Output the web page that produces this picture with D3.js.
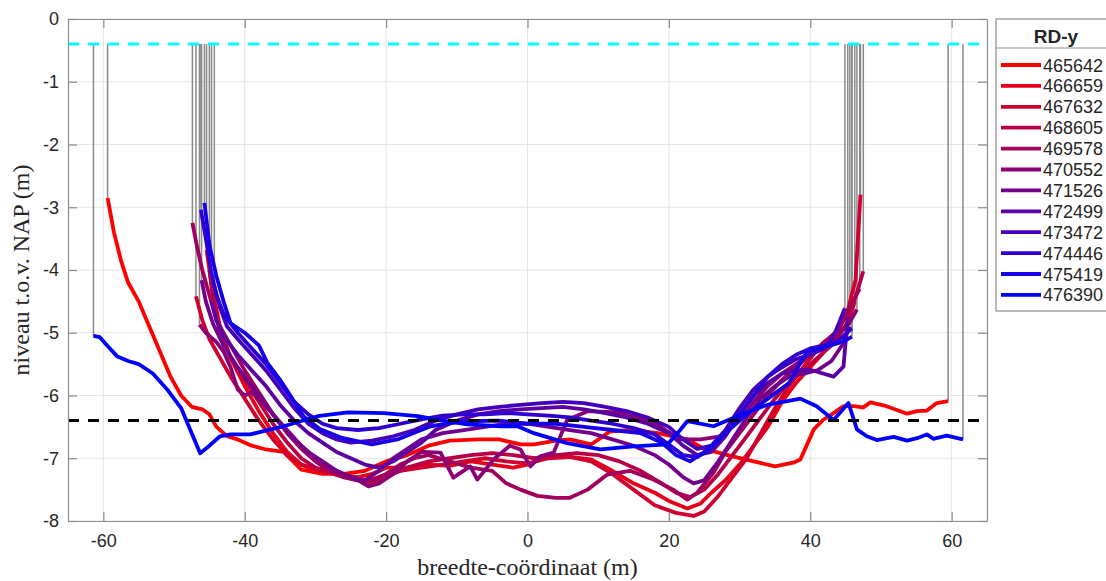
<!DOCTYPE html>
<html>
<head>
<meta charset="utf-8">
<script src="https://cdn.jsdelivr.net/npm/d3@7"></script>
<style>
body { margin: 0; background: #fff; }
.tick text { font-family: "Liberation Sans", Arial, sans-serif; font-size: 18px; fill: #262626; }
.axisTitle { font-family: "Liberation Serif", "Times New Roman", serif; font-size: 24px; fill: #262626; }
.legendText { font-family: "Liberation Sans", Arial, sans-serif; font-size: 18px; fill: #262626; }
</style>
</head>
<body>
<div id="drawing"></div>
<script>
"use strict"

/**** DATA ****/

// legend labels (RD-y coordinate of each cross section)
let rdY = [465642, 466659, 467632, 468605, 469578, 470552, 471526, 472499, 473472, 474446, 475419, 476390]

let xTicks = [-60, -40, -20, 0, 20, 40, 60]
let yTicks = [0, -1, -2, -3, -4, -5, -6, -7, -8]

let waterLevel = -0.4
let designDepth = -6.4

// profiles: [breedte-coordinaat, niveau]
let prof465642 = [[-59.4,-2.85],[-58.5,-3.4],[-57.5,-3.85],[-56.5,-4.2],[-55,-4.5],[-53.5,-4.9],[-52,-5.3],[-50.5,-5.7],[-49,-6.0],[-47.5,-6.18],[-46,-6.22],[-45,-6.3],[-44,-6.5],[-42.5,-6.65],[-41,-6.7],[-39,-6.8],[-37,-6.86],[-34.5,-6.9],[-32,-7.18],[-29,-7.25],[-26,-7.25],[-23,-7.2],[-20,-7.05],[-17,-6.95],[-14,-6.8],[-11,-6.72],[-7,-6.7],[-4,-6.7],[-1,-6.78],[1,-6.78],[4,-6.72],[6,-6.7],[9,-6.78],[10.3,-6.68],[11.7,-6.57],[15,-6.55],[18.4,-6.6],[22.6,-6.7],[25,-6.85],[27,-6.91],[29,-6.97],[32,-7.05],[35,-7.13],[37.6,-7.07],[38.6,-7.02],[40.5,-6.54],[41.8,-6.39],[43.3,-6.28],[44.7,-6.17],[46.1,-6.17],[47.5,-6.19],[48.5,-6.11],[50.8,-6.17],[53.7,-6.29],[55.1,-6.25],[56.5,-6.24],[57.9,-6.12],[59.5,-6.09]]
let prof466659 = [[-45.4,-3.68],[-44.6,-4.3],[-43.5,-4.9],[-42,-5.4],[-40,-5.85],[-38,-6.25],[-36,-6.6],[-34,-6.9],[-32,-7.1],[-30,-7.2],[-27,-7.25],[-24,-7.3],[-22,-7.25],[-20,-7.15],[-17,-7.15],[-14,-7.1],[-11,-7.12],[-8,-7.05],[-5,-7.1],[-2,-7.15],[0,-7.1],[3,-6.98],[6,-6.98],[9,-7.02],[12,-7.2],[15,-7.4],[18,-7.55],[20,-7.68],[22.6,-7.8],[24.5,-7.72],[26,-7.55],[28,-7.35],[30,-7.1],[32,-6.8],[34,-6.5],[36,-6.1],[38,-5.8],[40,-5.55],[42,-5.3],[44,-5.05],[45.5,-4.8],[46.3,-4.5]]
let prof467632 = [[-46.9,-4.42],[-46,-4.8],[-45,-5.1],[-43.5,-5.4],[-42,-5.7],[-40,-6.05],[-38,-6.4],[-36,-6.7],[-34,-6.95],[-32,-7.1],[-29,-7.2],[-26,-7.3],[-23,-7.38],[-21,-7.3],[-18,-7.2],[-15,-7.15],[-12,-7.1],[-9,-7.05],[-6,-7.0],[-3,-7.05],[0,-7.08],[3,-7.0],[6,-6.98],[9,-7.05],[12,-7.25],[15,-7.5],[18,-7.75],[21,-7.87],[23.5,-7.92],[25,-7.85],[27,-7.6],[29,-7.3],[31,-7.0],[33,-6.6],[35,-6.2],[37,-5.85],[39,-5.55],[41.8,-5.16],[43.8,-5.0],[45.2,-4.69],[46.4,-4.16],[47.1,-2.8]]
let prof468605 = [[-45.0,-4.0],[-44.3,-4.6],[-43.5,-5.0],[-42,-5.4],[-40,-5.75],[-38,-6.1],[-36,-6.45],[-34,-6.75],[-32,-7.0],[-30,-7.15],[-27,-7.25],[-24,-7.35],[-22,-7.4],[-20,-7.3],[-17,-7.15],[-14,-7.05],[-11,-7.0],[-8,-6.95],[-5,-6.92],[-2,-6.95],[1,-7.0],[4,-6.95],[7,-6.92],[10,-6.95],[13,-7.05],[16,-7.2],[19,-7.4],[21,-7.55],[23,-7.62],[25,-7.5],[27,-7.25],[29,-6.95],[31,-6.65],[33,-6.35],[35,-6.05],[37,-5.8],[39,-5.6],[41,-5.4],[43,-5.2],[45,-4.9],[46.5,-4.4],[47.5,-4.02]]
let prof469578 = [[-47.4,-3.25],[-46.8,-3.6],[-46,-4.0],[-45,-4.4],[-44,-4.8],[-42,-5.2],[-40,-5.6],[-38,-5.95],[-36,-6.3],[-34,-6.6],[-32,-6.85],[-30,-7.05],[-28,-7.2],[-26,-7.3],[-24,-7.35],[-22,-7.35],[-20,-7.25],[-18,-7.1],[-16,-7.0],[-14,-6.95],[-11,-7.05],[-8,-7.15],[-5,-7.2],[-3,-7.4],[-1,-7.5],[1.4,-7.6],[4,-7.63],[6,-7.63],[8.5,-7.5],[11.3,-7.26],[14.5,-7.2],[17.8,-7.34],[20.6,-7.5],[22.6,-7.66],[24,-7.55],[26.3,-7.23],[28,-6.9],[30,-6.6],[32,-6.3],[34,-6.0],[36,-5.75],[38,-5.55],[40,-5.35],[42,-5.15],[44,-4.95],[45.5,-4.6],[47.0,-4.3]]
let prof470552 = [[-46.4,-4.87],[-45.5,-5.0],[-44,-5.15],[-43,-5.3],[-42,-5.55],[-41,-5.9],[-40,-6.0],[-39,-5.95],[-38,-6.05],[-36,-6.3],[-34,-6.55],[-32,-6.8],[-30,-7.0],[-28,-7.15],[-26,-7.25],[-24,-7.35],[-22.5,-7.45],[-21,-7.4],[-19,-7.25],[-17,-7.05],[-15,-6.9],[-12.3,-6.91],[-10.5,-7.31],[-8.1,-7.13],[-7.1,-7.34],[-4.8,-7.02],[-2.5,-6.8],[-1,-6.86],[0.4,-7.13],[1.8,-6.97],[3.7,-6.91],[5.6,-6.39],[8.5,-6.25],[13.1,-6.27],[17.8,-6.43],[21.6,-6.7],[24.5,-6.7],[27.3,-6.65],[30,-6.4],[32,-6.1],[34,-5.85],[36,-5.65],[38,-5.5],[40,-5.35],[42,-5.2],[44,-5.0],[45.5,-4.85],[46.6,-4.63]]
let prof471526 = [[-46.1,-4.16],[-45.5,-4.5],[-44.5,-4.85],[-43,-5.2],[-41,-5.55],[-39,-5.85],[-37,-6.15],[-35,-6.45],[-33,-6.7],[-31,-6.9],[-29,-7.05],[-27,-7.2],[-25,-7.3],[-23,-7.35],[-21,-7.2],[-19,-7.0],[-17,-6.85],[-15,-6.7],[-12,-6.6],[-9,-6.55],[-6,-6.5],[-3,-6.45],[0,-6.45],[3,-6.5],[6,-6.55],[9,-6.6],[12,-6.7],[15,-6.8],[18,-6.95],[20,-7.1],[22,-7.3],[23.5,-7.4],[25,-7.35],[27,-7.05],[29,-6.7],[31,-6.35],[33,-6.05],[35,-5.85],[37,-5.7],[39,-5.65],[41,-5.6],[43,-5.45],[44.5,-5.2],[45.6,-4.9]]
let prof472499 = [[-44.7,-4.5],[-44,-4.8],[-43,-5.05],[-41,-5.35],[-39,-5.6],[-37,-5.85],[-35,-6.15],[-33,-6.4],[-31,-6.6],[-29,-6.75],[-27,-6.9],[-25,-7.0],[-23,-7.1],[-21,-7.15],[-19,-7.05],[-17,-6.9],[-15,-6.75],[-13,-6.55],[-10,-6.4],[-7,-6.3],[-4,-6.25],[-1,-6.22],[2,-6.2],[5,-6.18],[8,-6.22],[11,-6.28],[14,-6.35],[17,-6.45],[20,-6.6],[22,-6.8],[24,-6.95],[26,-6.9],[28,-6.65],[30,-6.3],[32,-6.0],[34,-5.8],[36,-5.65],[38,-5.6],[40,-5.59],[43.3,-5.7],[44.7,-5.54],[45.3,-4.75]]
let prof473472 = [[-44.3,-4.26],[-43.5,-4.6],[-42.5,-4.9],[-41,-5.1],[-39,-5.35],[-37,-5.6],[-35,-5.9],[-33,-6.2],[-31,-6.45],[-29,-6.6],[-27,-6.7],[-25,-6.75],[-22,-6.72],[-19,-6.65],[-16,-6.55],[-13,-6.4],[-10,-6.3],[-7,-6.22],[-4,-6.18],[-1,-6.15],[2,-6.12],[5,-6.1],[8,-6.12],[11,-6.18],[14,-6.25],[17,-6.35],[20,-6.5],[22,-6.7],[24,-6.85],[26,-6.8],[28,-6.55],[30,-6.2],[32,-5.9],[34,-5.7],[36,-5.55],[38,-5.42],[40,-5.35],[42,-5.25],[43.5,-5.0],[44.9,-4.61]]
let prof474446 = [[-46.2,-3.04],[-45.5,-3.5],[-44.8,-4.0],[-44,-4.4],[-43,-4.7],[-41,-5.0],[-39,-5.25],[-37,-5.5],[-35,-5.8],[-33,-6.1],[-31,-6.3],[-29,-6.45],[-27,-6.52],[-24,-6.55],[-21,-6.52],[-18,-6.45],[-15,-6.38],[-12,-6.32],[-9,-6.3],[-6,-6.3],[-3,-6.28],[0,-6.3],[3,-6.32],[6,-6.35],[9,-6.4],[12,-6.45],[15,-6.52],[18,-6.62],[20,-6.78],[22,-6.95],[24,-6.98],[26,-6.85],[28,-6.6],[30,-6.3],[32,-6.0],[34,-5.7],[36,-5.5],[38,-5.35],[40,-5.25],[42,-5.2],[44,-5.12],[45.9,-4.93]]
let prof475419 = [[-45.7,-2.93],[-45,-3.6],[-44,-4.1],[-43,-4.5],[-42,-4.85],[-40,-5.0],[-38,-5.2],[-36.8,-5.48],[-35,-5.75],[-33.5,-6.01],[-31.7,-6.33],[-29.3,-6.54],[-26.4,-6.67],[-22,-6.78],[-18.4,-6.7],[-13.7,-6.49],[-9,-6.41],[-4,-6.4],[0,-6.45],[4,-6.45],[8,-6.5],[12,-6.55],[16,-6.6],[19,-6.75],[21,-6.95],[23,-7.05],[25,-6.9],[28,-6.6],[31,-6.3],[34,-6.05],[37,-5.8],[39.5,-5.3],[42.4,-5.22],[44.7,-5.14],[45.9,-5.06]]
let prof476390 = [[-61.4,-5.05],[-60.5,-5.07],[-59.5,-5.2],[-58,-5.38],[-56.5,-5.45],[-55,-5.5],[-53,-5.65],[-51,-5.9],[-49,-6.2],[-47.5,-6.6],[-46.3,-6.92],[-45,-6.8],[-43.5,-6.65],[-42,-6.62],[-39.2,-6.62],[-34.5,-6.49],[-29.7,-6.33],[-25.4,-6.27],[-20.3,-6.28],[-15.5,-6.33],[-12.7,-6.39],[-8.5,-6.46],[-3.8,-6.49],[-1.4,-6.49],[0.9,-6.6],[5.6,-6.76],[10.3,-6.86],[15,-6.81],[19.8,-6.78],[21.6,-6.55],[22.6,-6.41],[26.3,-6.49],[30.1,-6.31],[33.9,-6.15],[38.6,-6.05],[40.9,-6.17],[43.3,-6.39],[45.4,-6.12],[46.6,-6.54],[48,-6.65],[49.4,-6.71],[51.8,-6.66],[53.7,-6.72],[55.1,-6.68],[56.5,-6.62],[57.4,-6.69],[59.3,-6.64],[61.6,-6.7]]

let profiles = [prof465642, prof466659, prof467632, prof468605, prof469578, prof470552,
                prof471526, prof472499, prof473472, prof474446, prof475419, prof476390]


/**** CANVAS ****/

let svgWidth = 1106
let svgHeight = 581

let plotLeft = 68
let plotRight = 987
let plotTop = 19
let plotBottom = 521

let svg = d3.select("#drawing")
.append("svg")
.attr("width", svgWidth)
.attr("height", svgHeight)

let xScale = d3.scaleLinear()
.domain([-65, 65])
.range([plotLeft, plotRight])

let yScale = d3.scaleLinear()
.domain([-8, 0])
.range([plotBottom, plotTop])

let colorScale = d3.scaleLinear()
.domain([rdY[0], rdY[rdY.length - 1]])
.range(["#ff0000", "#0000ff"])


/**** GRID ****/

let grid = svg.append("g")

grid.selectAll(".gx")
.data(xTicks)
.join("line")
.attr("x1", d => xScale(d))
.attr("x2", d => xScale(d))
.attr("y1", plotTop)
.attr("y2", plotBottom)
.attr("stroke", "#e5e5e5")
.attr("stroke-width", 1)

grid.selectAll(".gy")
.data(yTicks)
.join("line")
.attr("x1", plotLeft)
.attr("x2", plotRight)
.attr("y1", d => yScale(d))
.attr("y2", d => yScale(d))
.attr("stroke", "#e5e5e5")
.attr("stroke-width", 1)


/**** GRAY VERTICAL LINES (water level to profile ends) ****/

let ends = []
profiles.forEach(p => {
    ends.push(p[0])
    ends.push(p[p.length - 1])
})

svg.append("g")
.selectAll("line")
.data(ends)
.join("line")
.attr("x1", d => xScale(d[0]))
.attr("x2", d => xScale(d[0]))
.attr("y1", yScale(waterLevel))
.attr("y2", d => yScale(d[1]))
.attr("stroke", "#8a8a8a")
.attr("stroke-width", 1.5)


/**** PROFILES ****/

let line = d3.line()
.x(d => xScale(d[0]))
.y(d => yScale(d[1]))

svg.append("g")
.selectAll("path")
.data(profiles)
.join("path")
.attr("d", line)
.attr("fill", "none")
.attr("stroke", (d, i) => colorScale(rdY[i]))
.attr("stroke-width", 3.8)
.attr("stroke-linejoin", "round")


/**** LEVEL LINES ****/

svg.append("line")
.attr("x1", plotLeft)
.attr("x2", plotRight)
.attr("y1", yScale(waterLevel))
.attr("y2", yScale(waterLevel))
.attr("stroke", "#00ffff")
.attr("stroke-width", 3)
.attr("stroke-dasharray", "11,9")

svg.append("line")
.attr("x1", plotLeft)
.attr("x2", plotRight)
.attr("y1", yScale(designDepth))
.attr("y2", yScale(designDepth))
.attr("stroke", "#000000")
.attr("stroke-width", 3)
.attr("stroke-dasharray", "11,9")


/**** AXES ****/

let axisColor = "#8c8c8c"

let xAxis = svg.append("g")
.attr("transform", "translate(0," + plotBottom + ")")
.call(d3.axisBottom(xScale).tickValues(xTicks).tickSizeInner(-9).tickSizeOuter(0).tickPadding(13).tickFormat(d => String(d)))

let xAxisTop = svg.append("g")
.attr("transform", "translate(0," + plotTop + ")")
.call(d3.axisTop(xScale).tickValues(xTicks).tickSizeInner(-9).tickSizeOuter(0).tickFormat(""))

let yAxis = svg.append("g")
.attr("transform", "translate(" + plotLeft + ",0)")
.call(d3.axisLeft(yScale).tickValues(yTicks).tickSizeInner(-9).tickSizeOuter(0).tickPadding(9).tickFormat(d => String(d)))

let yAxisRight = svg.append("g")
.attr("transform", "translate(" + plotRight + ",0)")
.call(d3.axisRight(yScale).tickValues(yTicks).tickSizeInner(-9).tickSizeOuter(0).tickFormat(""))

svg.selectAll(".domain, .tick line")
.attr("stroke", axisColor)
.attr("stroke-width", 1.2)


/**** AXIS TITLES ****/

svg.append("text")
.attr("class", "axisTitle")
.attr("x", (plotLeft + plotRight) / 2)
.attr("y", 575)
.style("text-anchor", "middle")
.text("breedte-coördinaat (m)")

svg.append("text")
.attr("class", "axisTitle")
.attr("transform", "rotate(-90)")
.attr("x", -(plotTop + plotBottom) / 2)
.attr("y", 29)
.style("text-anchor", "middle")
.text("niveau t.o.v. NAP (m)")


/**** LEGEND ****/

let legend = svg.append("g")
.attr("transform", "translate(996,19)")

legend.append("rect")
.attr("width", 130)
.attr("height", 292)
.attr("fill", "#ffffff")
.attr("stroke", axisColor)
.attr("stroke-width", 1.2)

legend.append("line")
.attr("x1", 0)
.attr("x2", 130)
.attr("y1", 29)
.attr("y2", 29)
.attr("stroke", axisColor)
.attr("stroke-width", 1)

legend.append("text")
.attr("class", "legendText")
.attr("x", 60)
.attr("y", 24)
.style("text-anchor", "middle")
.style("font-weight", "bold")
.style("font-size", "19px")
.text("RD-y")

let entries = legend.selectAll(".entry")
.data(rdY)
.join("g")
.attr("transform", (d, i) => "translate(0," + (46 + i * 20.9) + ")")

entries.append("line")
.attr("x1", 5)
.attr("x2", 45)
.attr("y1", 0)
.attr("y2", 0)
.attr("stroke", d => colorScale(d))
.attr("stroke-width", 3.8)

entries.append("text")
.attr("class", "legendText")
.attr("x", 47)
.attr("y", 6.5)
.text(d => d)
</script>
</body>
</html>
